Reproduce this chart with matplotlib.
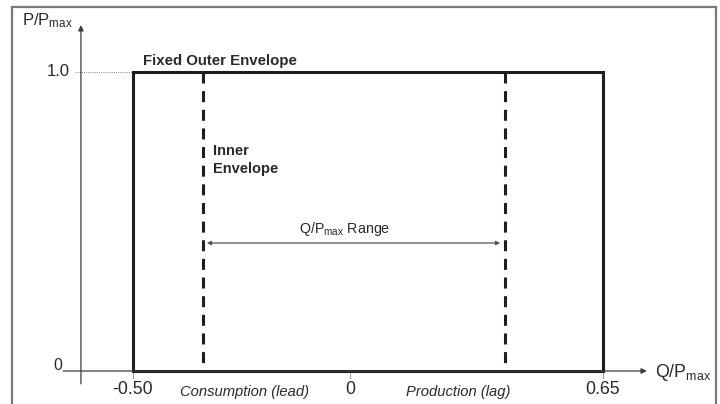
import numpy as np
import matplotlib.pyplot as plt
from matplotlib.patches import Rectangle

plt.rcParams['font.family'] = ['Liberation Sans', 'DejaVu Sans']
plt.rcParams['mathtext.fontset'] = 'custom'
plt.rcParams['mathtext.rm'] = 'Liberation Sans'
plt.rcParams['mathtext.it'] = 'Liberation Sans:italic'

# Schematic data (x positions are drawn on a schematic, not-to-scale axis)
tick_labels = ['-0.50', '0', '0.65']
tick_pos = [-0.50, 0.0, 0.583]
outer_q = [-0.50, 0.583]           # fixed outer envelope, Q/Pmax
outer_p = [0.0, 1.0]               # P/Pmax
inner_q = [-0.339, 0.357]          # inner envelope (dashed)
range_q = [-0.330, 0.346]          # Q/Pmax range arrow
range_p = 0.428

ink = '#1e1e1e'
grey = '#3a3a3a'

fig = plt.figure(figsize=(7.2, 4.04), dpi=100)
ax = fig.add_axes([0, 0, 1, 1])
ax.set_xlim(-0.8065, 0.8525)
ax.set_ylim(-0.1104, 1.2408)
ax.axis('off')

# outer frame of the picture
fig.patches.append(Rectangle((0.0167, -0.02), 0.978, 1.003, transform=fig.transFigure,
                             fill=False, edgecolor='#7a7a7a', linewidth=1.6))

# axes with arrows
ax.annotate('', xy=(0.684, 0), xytext=(-0.661, 0),
            arrowprops=dict(arrowstyle='-|>', color=grey, lw=0.9, mutation_scale=8,
                            shrinkA=0, shrinkB=0))
ax.annotate('', xy=(-0.620, 1.157), xytext=(-0.620, -0.043),
            arrowprops=dict(arrowstyle='-|>', color=grey, lw=0.9, mutation_scale=8,
                            shrinkA=0, shrinkB=0))

# tick marks under x axis
for xp in tick_pos:
    ax.plot([xp, xp], [0, -0.022], color='#9a9a9a', lw=0.7)

# dotted guide at 1.0
ax.plot([-0.634, outer_q[0]], [outer_p[1], outer_p[1]], color='#888888', lw=0.7,
        linestyle=(0, (1, 1.2)))

# fixed outer envelope
ax.plot([outer_q[0], outer_q[0], outer_q[1], outer_q[1]],
        [outer_p[0], outer_p[1], outer_p[1], outer_p[0]], color=ink, lw=2.2,
        solid_joinstyle='miter')
ax.plot([outer_q[0], outer_q[1]], [0, 0], color=ink, lw=2.2, solid_capstyle='butt')

# inner envelope
for q in inner_q:
    ax.plot([q, q], [outer_p[1], outer_p[0]], color=ink, lw=2.2,
            linestyle=(0, (3.6, 2.5)), solid_capstyle='butt')

# Q/Pmax range double arrow
ax.annotate('', xy=(range_q[1], range_p), xytext=(range_q[0], range_p),
            arrowprops=dict(arrowstyle='<|-|>', color='#555555', lw=0.9, mutation_scale=6,
                            shrinkA=0, shrinkB=0))

# text
tc = '#2a2a2a'
ax.text(-0.756, 1.157, r'P/P$_{\mathrm{max}}$', fontsize=12, color=tc, ha='left', va='baseline')
ax.text(-0.645, 1.0, '1.0', fontsize=12, color=tc, ha='right', va='center')
ax.text(-0.664, 0.003, '0', fontsize=11.5, color=tc, ha='right', va='baseline')
for xp, lab in zip(tick_pos, tick_labels):
    ax.text(xp, -0.035, lab, fontsize=12.8, color=tc, ha='center', va='top')
ax.text(0.703, -0.020, r'Q/P$_{\mathrm{max}}$', fontsize=12.8, color=tc, ha='left', va='baseline')
ax.text(-0.242, -0.084, 'Consumption (lead)', fontsize=10.6, style='italic', color=tc,
        ha='center', va='baseline')
ax.text(0.249, -0.084, 'Production (lag)', fontsize=10.6, style='italic', color=tc,
        ha='center', va='baseline')
ax.text(-0.477, 1.023, 'Fixed Outer Envelope', fontsize=10.8, fontweight='bold', color=tc,
        ha='left', va='baseline')
ax.text(-0.316, 0.722, 'Inner', fontsize=10.5, fontweight='bold', color=tc, ha='left', va='baseline')
ax.text(-0.316, 0.662, 'Envelope', fontsize=10.5, fontweight='bold', color=tc, ha='left', va='baseline')
ax.text(-0.012, 0.462, r'Q/P$_{\mathrm{max}}$ Range', fontsize=10.3, color=tc,
        ha='center', va='baseline')

fig.savefig('out.png', dpi=100)
